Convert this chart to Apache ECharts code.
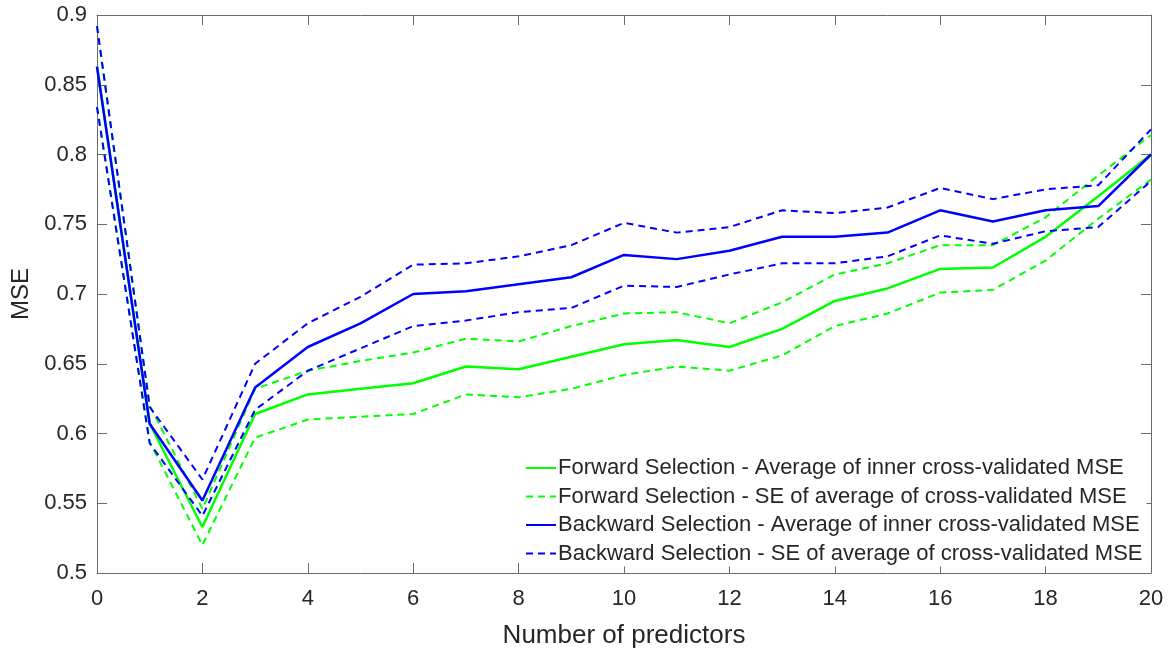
<!DOCTYPE html>
<html>
<head>
<meta charset="utf-8">
<script src="https://cdn.jsdelivr.net/npm/echarts@6/dist/echarts.min.js"></script>
<style>
html,body{margin:0;padding:0;background:#fff;}
#chart{width:1172px;height:648px;}
</style>
</head>
<body>
<div id="chart"></div>
<script>
const predictors = [0,1,2,3,4,5,6,7,8,9,10,11,12,13,14,15,16,17,18,19,20];
const fwdAvg     = [0.863,0.607,0.533,0.614,0.628,0.632,0.636,0.648,0.646,0.655,0.664,0.667,0.662,0.675,0.695,0.704,0.718,0.719,0.741,0.770,0.800];
const fwdSEUpper = [0.892,0.620,0.546,0.632,0.645,0.652,0.658,0.668,0.666,0.677,0.686,0.687,0.679,0.694,0.714,0.722,0.735,0.735,0.755,0.785,0.814];
const fwdSELower = [0.834,0.594,0.520,0.597,0.610,0.612,0.614,0.628,0.626,0.632,0.642,0.648,0.645,0.656,0.677,0.686,0.701,0.703,0.724,0.754,0.782];
const bwdAvg     = [0.863,0.607,0.552,0.633,0.662,0.679,0.700,0.702,0.707,0.712,0.728,0.725,0.731,0.741,0.741,0.744,0.760,0.752,0.760,0.763,0.800];
const bwdSEUpper = [0.892,0.619,0.567,0.650,0.679,0.698,0.721,0.722,0.727,0.735,0.751,0.744,0.748,0.760,0.758,0.762,0.776,0.768,0.775,0.778,0.818];
const bwdSELower = [0.834,0.593,0.541,0.617,0.645,0.661,0.677,0.681,0.687,0.690,0.706,0.705,0.714,0.722,0.722,0.727,0.742,0.736,0.745,0.748,0.781];

const names = [
  'Forward Selection - Average of inner cross-validated MSE',
  'Forward Selection - SE of average of cross-validated MSE',
  'Backward Selection - Average of inner cross-validated MSE',
  'Backward Selection - SE of average of cross-validated MSE'
];
const GREEN = '#00ff00', BLUE = '#0000ff';
const FONT = "'Liberation Sans', Arial, Helvetica, sans-serif";
const TXT = '#262626', AX = '#6b6b6b';

function pts(arr){ return predictors.map((x,i)=>[x, arr[i]]); }
function mk(name, arr, color, dashed){
  return {
    name: name, type: 'line', data: pts(arr), symbol: 'none', silent: true,
    xAxisIndex: 0, yAxisIndex: 0,
    lineStyle: {color: color, width: dashed ? 2 : 2.5, type: dashed ? [7,5] : 'solid'},
    itemStyle: {color: color},
    animation: false
  };
}

const chart = echarts.init(document.getElementById('chart'), null, {renderer:'canvas'});
const yFmt = v => String(parseFloat(v.toFixed(2)));
chart.setOption({
  backgroundColor: '#fff',
  animation: false,
  grid: {left: 97, right: 21, top: 15, bottom: 75, containLabel: false, outerBoundsMode: 'none'},
  xAxis: [{
    type: 'value', min: 0, max: 20, interval: 2, position: 'bottom',
    name: 'Number of predictors', nameLocation: 'middle', nameGap: 50,
    nameTextStyle: {fontFamily: FONT, fontSize: 26, color: TXT},
    axisLine: {show: true, lineStyle: {color: AX, width: 1}},
    axisTick: {show: true, inside: true, length: 10, lineStyle: {color: AX}},
    axisLabel: {fontFamily: FONT, fontSize: 22, color: TXT, margin: 15},
    splitLine: {show: false}
  },{
    type: 'value', min: 0, max: 20, interval: 2, position: 'top',
    axisLine: {show: true, onZero: false, lineStyle: {color: AX, width: 1}},
    axisTick: {show: true, inside: true, length: 10, lineStyle: {color: AX}},
    axisLabel: {show: false}, splitLine: {show: false}
  }],
  yAxis: [{
    type: 'value', min: 0.5, max: 0.9, interval: 0.05, position: 'left',
    name: 'MSE', nameLocation: 'middle', nameGap: 63, nameRotate: 90,
    nameTextStyle: {fontFamily: FONT, fontSize: 24, color: TXT},
    axisLine: {show: true, onZero: false, lineStyle: {color: AX, width: 1}},
    axisTick: {show: true, inside: true, length: 10, lineStyle: {color: AX}},
    axisLabel: {fontFamily: FONT, fontSize: 22, color: TXT, margin: 10, formatter: yFmt},
    splitLine: {show: false}
  },{
    type: 'value', min: 0.5, max: 0.9, interval: 0.05, position: 'right',
    axisLine: {show: true, onZero: false, lineStyle: {color: AX, width: 1}},
    axisTick: {show: true, inside: true, length: 10, lineStyle: {color: AX}},
    axisLabel: {show: false}, splitLine: {show: false}
  }],
  legend: {
    data: names,
    orient: 'vertical', left: 521, top: 455,
    backgroundColor: '#ffffff', padding: [2, 4, 2, 4],
    itemWidth: 30, itemHeight: 14, itemGap: 6.5,
    selectedMode: false,
    itemStyle: {opacity: 0},
    textStyle: {fontFamily: FONT, fontSize: 22, color: TXT, lineHeight: 22, padding: [0,0,0,-3]}
  },
  series: [
    mk(names[0], fwdAvg, GREEN, false),
    mk(names[1], fwdSEUpper, GREEN, true),
    mk(names[1], fwdSELower, GREEN, true),
    mk(names[2], bwdAvg, BLUE, false),
    mk(names[3], bwdSEUpper, BLUE, true),
    mk(names[3], bwdSELower, BLUE, true)
  ]
});
</script>
</body>
</html>
